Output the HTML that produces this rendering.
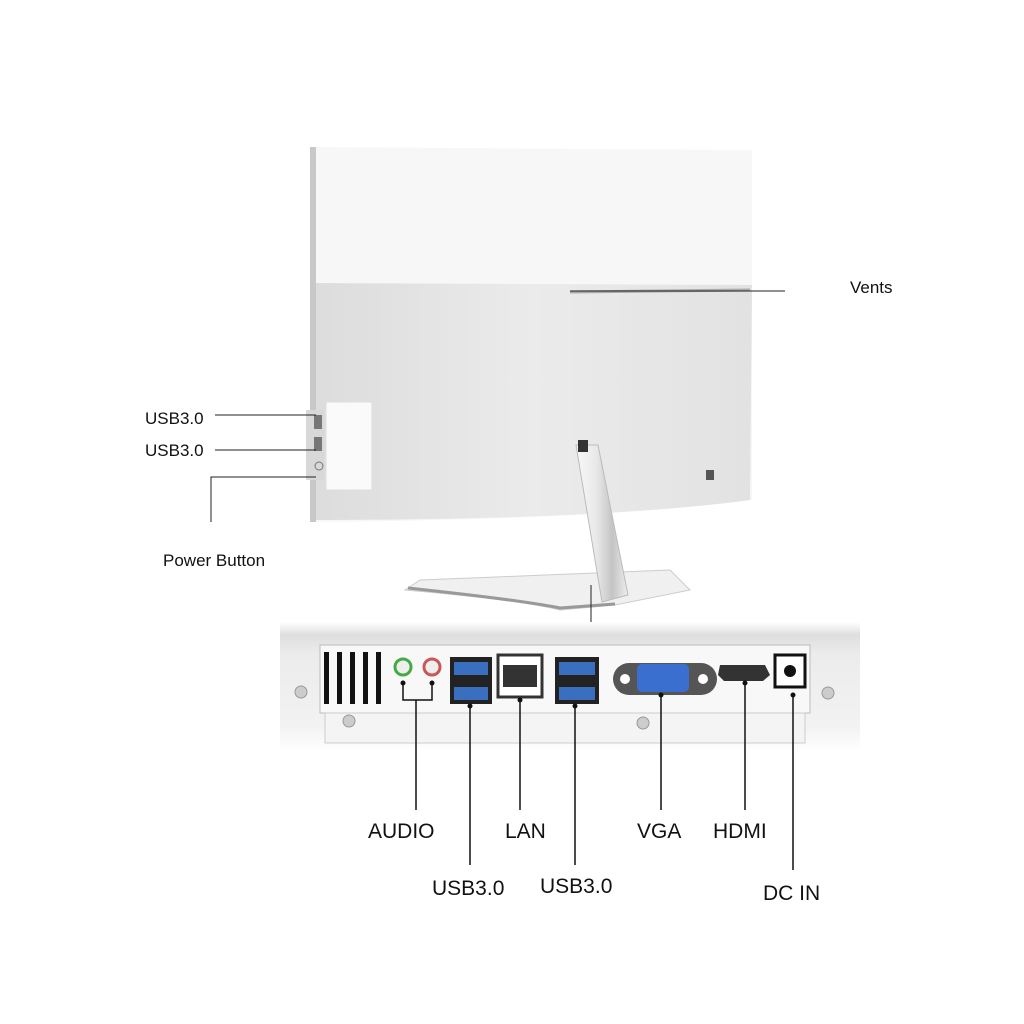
<!DOCTYPE html>
<html><head><style>
body{margin:0;background:#fff;}
svg{display:block}
text{font-family:"Liberation Sans",sans-serif;fill:#111}
</style></head><body>
<svg width="1024" height="1024" viewBox="0 0 1024 1024" xmlns="http://www.w3.org/2000/svg">
<defs>
<linearGradient id="band" x1="0" y1="0" x2="0" y2="1">
<stop offset="0" stop-color="#fff"/><stop offset="0.1" stop-color="#dedede"/><stop offset="0.25" stop-color="#ececec"/><stop offset="0.8" stop-color="#f2f2f2"/><stop offset="1" stop-color="#fff"/>
</linearGradient>
<linearGradient id="tex" x1="0" y1="0" x2="1" y2="0">
<stop offset="0" stop-color="#dcdcdc"/><stop offset="0.5" stop-color="#ebebeb"/><stop offset="1" stop-color="#e2e2e2"/>
</linearGradient>
<linearGradient id="neck" x1="0" y1="0" x2="1" y2="0">
<stop offset="0" stop-color="#f8f8f8"/><stop offset="0.4" stop-color="#e8e8e8"/><stop offset="0.7" stop-color="#c4c4c4"/><stop offset="1" stop-color="#eee"/>
</linearGradient>
</defs>
<!-- monitor -->
<path d="M310 147 L752 150 L752 500 Q600 520 310 522 Z" fill="#f7f7f7"/>
<path d="M312 283 L752 285 L750 500 Q600 520 312 520 Z" fill="url(#tex)"/>
<rect x="310" y="147" width="6" height="375" fill="#c8c8c8"/>
<line x1="570" y1="292" x2="750" y2="290" stroke="#aaa" stroke-width="3"/>
<!-- base -->
<path d="M420 580 L670 570 L690 590 L615 605 L560 610 Q520 600 405 590 Z" fill="#f0f0f0" stroke="#ccc"/>
<path d="M408 588 Q520 600 560 608 L615 604" stroke="#999" stroke-width="3" fill="none"/>
<path d="M576 445 L598 445 L628 595 L602 602 Z" fill="url(#neck)" stroke="#bbb"/>
<rect x="578" y="440" width="10" height="12" fill="#333"/>
<rect x="706" y="470" width="8" height="10" fill="#555"/>
<!-- side box -->
<rect x="306" y="410" width="18" height="70" fill="#d8d8d8"/>
<rect x="326" y="402" width="46" height="88" fill="#fafafa" stroke="#ddd"/>
<rect x="314" y="415" width="8" height="14" fill="#777"/>
<rect x="314" y="437" width="8" height="14" fill="#777"/>
<circle cx="319" cy="466" r="4" fill="none" stroke="#777"/>
<!-- left labels -->
<text x="145" y="424" font-size="17">USB3.0</text>
<text x="145" y="456" font-size="17">USB3.0</text>
<text x="163" y="566" font-size="17">Power Button</text>
<line x1="215" y1="415" x2="316" y2="415" stroke="#222"/>
<line x1="215" y1="450" x2="316" y2="450" stroke="#222"/>
<path d="M211 522 L211 477 L316 477" stroke="#222" fill="none"/>
<line x1="570" y1="291" x2="785" y2="291" stroke="#222"/>
<text x="850" y="293" font-size="17">Vents</text>
<line x1="591" y1="585" x2="591" y2="622" stroke="#222"/>
<!-- port panel -->
<rect x="280" y="622" width="580" height="130" fill="url(#band)"/>
<rect x="320" y="645" width="490" height="68" fill="#f8f8f8" stroke="#bbb"/>
<rect x="325" y="713" width="480" height="30" fill="#f4f4f4" stroke="#ccc"/>
<g fill="#111">
<rect x="324" y="652" width="5" height="52"/><rect x="337" y="652" width="5" height="52"/><rect x="350" y="652" width="5" height="52"/><rect x="363" y="652" width="5" height="52"/><rect x="376" y="652" width="5" height="52"/>
</g>
<circle cx="403" cy="667" r="8" fill="#eee" stroke="#4a4" stroke-width="3"/>
<circle cx="432" cy="667" r="8" fill="#eee" stroke="#c55" stroke-width="3"/>
<rect x="450" y="657" width="42" height="47" fill="#222"/>
<rect x="454" y="662" width="34" height="13" fill="#3a6fbf"/><rect x="454" y="687" width="34" height="13" fill="#3a6fbf"/>
<rect x="498" y="655" width="44" height="42" fill="#fff" stroke="#333" stroke-width="3"/>
<rect x="503" y="665" width="34" height="22" fill="#333"/>
<rect x="555" y="657" width="44" height="47" fill="#222"/>
<rect x="559" y="662" width="36" height="13" fill="#3a6fbf"/><rect x="559" y="687" width="36" height="13" fill="#3a6fbf"/>
<rect x="613" y="663" width="104" height="32" rx="16" fill="#555"/>
<rect x="637" y="664" width="52" height="28" rx="5" fill="#3a6fd0"/>
<circle cx="625" cy="679" r="5" fill="#fff"/><circle cx="703" cy="679" r="5" fill="#fff"/>
<path d="M720 665 L765 665 L770 675 L763 681 L724 681 L718 675 Z" fill="#333"/>
<rect x="775" y="655" width="30" height="32" fill="#fff" stroke="#111" stroke-width="3"/>
<circle cx="790" cy="671" r="6" fill="#111"/>
<g fill="#ccc" stroke="#999"><circle cx="301" cy="692" r="6"/><circle cx="349" cy="721" r="6"/><circle cx="643" cy="723" r="6"/><circle cx="828" cy="693" r="6"/></g>
<!-- bottom connectors -->
<g stroke="#111" stroke-width="1.5" fill="none">
<path d="M403 683 L403 700 L432 700 L432 683"/>
<line x1="416" y1="700" x2="416" y2="810"/>
<line x1="470" y1="706" x2="470" y2="865"/>
<line x1="520" y1="700" x2="520" y2="810"/>
<line x1="575" y1="706" x2="575" y2="865"/>
<line x1="661" y1="695" x2="661" y2="810"/>
<line x1="745" y1="683" x2="745" y2="810"/>
<line x1="793" y1="695" x2="793" y2="870"/>
</g>
<g fill="#111"><circle cx="403" cy="683" r="2.5"/><circle cx="432" cy="683" r="2.5"/><circle cx="470" cy="706" r="2.5"/><circle cx="520" cy="700" r="2.5"/><circle cx="575" cy="706" r="2.5"/><circle cx="661" cy="695" r="2.5"/><circle cx="745" cy="683" r="2.5"/><circle cx="793" cy="695" r="2.5"/></g>
<text x="368" y="838" font-size="21">AUDIO</text>
<text x="505" y="838" font-size="21">LAN</text>
<text x="637" y="838" font-size="21">VGA</text>
<text x="713" y="838" font-size="21">HDMI</text>
<text x="432" y="895" font-size="21">USB3.0</text>
<text x="540" y="893" font-size="21">USB3.0</text>
<text x="763" y="900" font-size="21">DC IN</text>
</svg>
</body></html>
